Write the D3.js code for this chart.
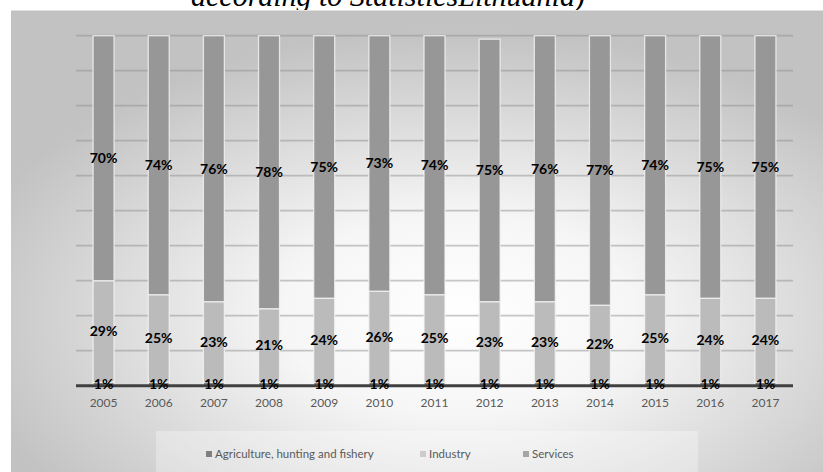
<!DOCTYPE html>
<html>
<head>
<meta charset="utf-8">
<script src="https://cdn.jsdelivr.net/npm/d3@7/dist/d3.min.js"></script>
<style>
  html, body { margin: 0; padding: 0; background: #ffffff; }
  svg { display: block; }
</style>
</head>
<body>
<svg id="chart" width="823" height="472"></svg>
<script>
// Share of gross value added by sector, Lithuania (%)
const years = ["2005","2006","2007","2008","2009","2010","2011","2012","2013","2014","2015","2016","2017"];
const agriculture = [1,1,1,1,1,1,1,1,1,1,1,1,1];
const industry = [29,25,23,21,24,26,25,23,23,22,25,24,24];
const services = [70,74,76,78,75,73,74,75,76,77,74,75,75];
const seriesNames = ["Agriculture, hunting and fishery", "Industry", "Services"];
const yTicks = [0,10,20,30,40,50,60,70,80,90,100];

const W = 823, H = 472;
const svg = d3.select("#chart");

// caption line from the surrounding document, partly cut off at the top
svg.append("text")
  .attr("x", 191).attr("y", 6)
  .attr("font-family", "'Liberation Serif', 'Times New Roman', serif")
  .attr("font-style", "italic")
  .attr("font-size", 30)
  .attr("fill", "#000")
  .text("according to StatisticsLithuania)");

// chart frame with a soft radial background
const defs = svg.append("defs");
const grad = defs.append("radialGradient")
  .attr("id", "bg").attr("cx", "55%").attr("cy", "66%").attr("r", "62%")
  .attr("fx", "55%").attr("fy", "66%");
grad.append("stop").attr("offset", "0%").attr("stop-color", "#ffffff");
grad.append("stop").attr("offset", "35%").attr("stop-color", "#f6f6f6");
grad.append("stop").attr("offset", "100%").attr("stop-color", "#c2c2c2");

svg.append("rect")
  .attr("x", 11).attr("y", 10).attr("width", W - 11).attr("height", H - 10)
  .attr("fill", "url(#bg)");
svg.append("line")
  .attr("x1", 11).attr("x2", W).attr("y1", 10.5).attr("y2", 10.5)
  .attr("stroke", "#e2e2e2").attr("stroke-width", 1);

// scales
const x = d3.scaleBand().domain(years).range([76, 793]).paddingInner(0.62).paddingOuter(0.31);
const y = d3.scaleLinear().domain([0, 100]).range([385.7, 35.7]);

// horizontal gridlines
svg.append("g").selectAll("line")
  .data(yTicks.filter(t => t > 0))
  .join("line")
  .attr("x1", 76).attr("x2", 793)
  .attr("y1", d => y(d)).attr("y2", d => y(d))
  .attr("stroke", "#8f8f8f").attr("stroke-opacity", 0.5).attr("stroke-width", 1.8);

// stacked bars
const rows = years.map((yr, i) => ({
  year: yr, agriculture: agriculture[i], industry: industry[i], services: services[i]
}));
const keys = ["agriculture", "industry", "services"];
const colors = { agriculture: "#7f7f7f", industry: "#bbbbbb", services: "#979797" };
const stacked = d3.stack().keys(keys)(rows);

const layers = svg.append("g").selectAll("g")
  .data(stacked).join("g")
  .attr("fill", d => colors[d.key]);

layers.selectAll("rect")
  .data(d => d)
  .join("rect")
  .attr("x", d => x(d.data.year))
  .attr("width", x.bandwidth())
  .attr("y", d => y(d[1]))
  .attr("height", d => y(d[0]) - y(d[1]))
  .attr("stroke", "#f4f4f4").attr("stroke-opacity", 0.8).attr("stroke-width", 1.3);

// category axis line
svg.append("line")
  .attr("x1", 76).attr("x2", 793).attr("y1", y(0)).attr("y2", y(0))
  .attr("stroke", "#404040").attr("stroke-width", 3);

// value labels in the middle of each segment
const labelFont = "Lato, 'Open Sans', sans-serif";
stacked.forEach(layer => {
  svg.append("g").selectAll("text")
    .data(layer).join("text")
    .attr("x", d => x(d.data.year) + x.bandwidth() / 2)
    .attr("y", d => y((d[0] + d[1]) / 2))
    .attr("dy", "0.36em")
    .attr("text-anchor", "middle")
    .attr("font-family", labelFont)
    .attr("font-weight", "bold")
    .attr("font-size", 14)
    .attr("fill", "#000")
    .text(d => (d[1] - d[0]) + "%");
});

// year labels
const xAxis = svg.append("g")
  .attr("transform", `translate(0,${y(0) + 7})`)
  .call(d3.axisBottom(x).tickSize(0).tickPadding(6));
xAxis.select(".domain").remove();
xAxis.selectAll("text")
  .attr("font-family", labelFont)
  .attr("font-size", 12)
  .attr("fill", "#595959");

// legend
svg.append("rect")
  .attr("x", 156).attr("y", 431).attr("width", 542).attr("height", H - 431)
  .attr("fill", "#ffffff").attr("fill-opacity", 0.3);

const legendX = [206, 420, 523];
const legendColors = ["#7f7f7f", "#cccccc", "#a6a6a6"];
const lg = svg.append("g").selectAll("g")
  .data(seriesNames).join("g")
  .attr("transform", (d, i) => `translate(${legendX[i]},454)`);
lg.append("rect")
  .attr("x", 0).attr("y", -3).attr("width", 6).attr("height", 6)
  .attr("fill", (d, i) => legendColors[i]);
lg.append("text")
  .attr("x", 9).attr("dy", "0.35em")
  .attr("font-family", labelFont)
  .attr("font-size", 11.5)
  .attr("fill", "#595959")
  .text(d => d);
</script>
</body>
</html>
